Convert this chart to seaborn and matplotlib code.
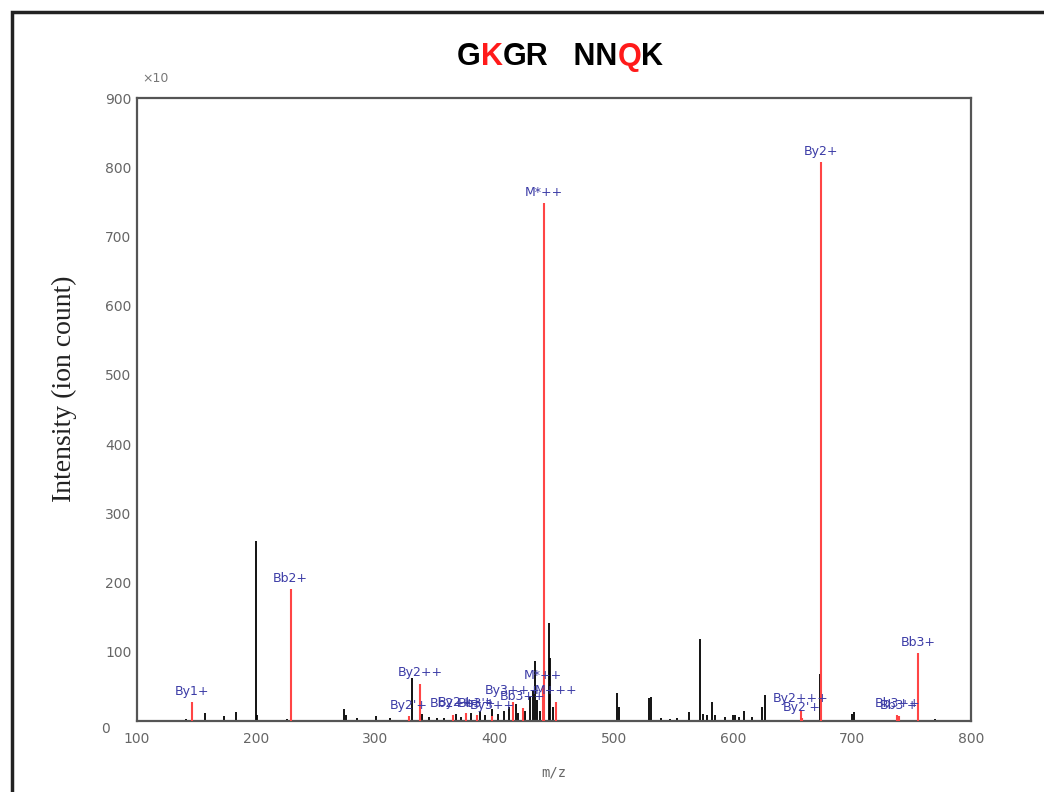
import numpy as np
import pandas as pd
import seaborn as sns
import matplotlib
matplotlib.use("Agg")
import matplotlib.pyplot as plt
from matplotlib.patches import Rectangle
from matplotlib.offsetbox import TextArea, HPacker, AnchoredOffsetbox

# ---------------- data ----------------
black_mz = [141, 156.8, 173.3, 183, 199.6, 201, 225.5, 274, 275.5, 285, 301, 312.3,
            330.5, 339, 345, 352, 358, 368, 372, 380, 388, 392, 398, 403, 408, 412,
            418, 420, 426, 429.8, 432, 434, 436, 438, 445.8, 447, 449, 502.6, 504.6,
            529.5, 531, 539.5, 547, 553, 563, 572.9, 575, 578, 582.6, 585, 593.4, 600,
            602, 605, 609.5, 616, 624.5, 627, 673.5, 700, 701.5, 755.5, 770]
black_int = [3, 12, 7, 13, 260, 8, 3, 17, 8, 4, 7, 5,
             62, 10, 6, 5, 4, 10, 6, 12, 15, 8, 18, 10, 14, 20,
             25, 12, 15, 35, 45, 86, 30, 15, 142, 91, 20, 40, 20,
             33, 35, 5, 3, 5, 13, 119, 10, 8, 28, 8, 6, 8,
             8, 6, 15, 6, 20, 38, 68, 10, 13, 26, 3]

red_mz = [146.4, 229, 328.3, 337.5, 365, 376, 385.6, 398, 415.6, 424,
          440.5, 441.6, 452, 657, 658, 674, 738, 739.5, 755.5]
red_int = [27, 190, 7, 54, 9, 11, 9, 7, 28, 19,
           50, 748, 28, 16, 4, 807, 9, 7, 98]
red_labels = ["By1+", "Bb2+", "By2'+", "By2++", "Bb2++", "By2+++", "Bb3'+", "By3++",
              "By3+++", "Bb3++", "M*++", "M*++", "M+++", "By2+++", "By2'+", "By2+",
              "Bb3++", "Bb3'+", "Bb3+"]

x_ticks = [100, 200, 300, 400, 500, 600, 700, 800]
y_ticks = [0, 100, 200, 300, 400, 500, 600, 700, 800, 900]

title_parts = [("G", "black"), ("K", "#ff1a1a"), ("GR", "black"), ("   NN", "black"),
               ("Q", "#ff1a1a"), ("K", "black")]

# ---------------- plot ----------------
sns.set_theme(style="white")
plt.rcParams["font.family"] = ["DejaVu Sans"]

fig = plt.figure(figsize=(10.44, 7.92), dpi=100)
ax = fig.add_axes([137 / 1044, 1 - 721 / 792, (971 - 137) / 1044, (721 - 98) / 792])

black_df = pd.DataFrame({"mz": black_mz, "intensity": black_int})
red_df = pd.DataFrame({"mz": red_mz, "intensity": red_int, "label": red_labels})

ax.vlines(black_df["mz"], 0, black_df["intensity"], color="black", linewidth=1.3, zorder=2)
ax.vlines(red_df["mz"], 0, red_df["intensity"], color="#ff4545", linewidth=1.5, zorder=3)

label_color = "#3b3ba6"
for _, r in red_df.iterrows():
    ax.annotate(r["label"], xy=(r["mz"], r["intensity"]), xytext=(0, 8),
                textcoords="offset points", ha="center", va="center",
                fontsize=9, color=label_color, zorder=4)

ax.set_xlim(100, 800)
ax.set_ylim(0, 900)
ax.set_xticks(x_ticks)
ax.set_yticks(y_ticks)
ax.set_xticklabels([str(t) for t in x_ticks])
ax.set_yticklabels([str(t) if t else "" for t in y_ticks])
ax.tick_params(axis="both", direction="in", length=4, width=1.2, colors="#555555",
               labelcolor="#666666", labelsize=10)
ax.tick_params(axis="x", pad=8)
ax.tick_params(axis="y", pad=4)
for s in ax.spines.values():
    s.set_color("#555555")
    s.set_linewidth(1.6)
    s.set_visible(True)

fig.text(106 / 1044, 1 - 729 / 792, "0", color="#666666", fontsize=10, ha="center", va="center")

ax.set_xlabel("m/z", color="#666666", fontsize=10, family="DejaVu Sans Mono", labelpad=14)
ax.set_ylabel("Intensity (ion count)", fontsize=20, family="Liberation Serif",
              color="#222222")
ax.yaxis.set_label_coords(-0.072, 0.533)
fig.text(155 / 1044, 1 - 78 / 792, "\u00d710", color="#777777", fontsize=9,
         ha="center", va="center")

# title with coloured letters
areas = [TextArea(t, textprops=dict(color=c, fontsize=22, fontweight="bold",
                                    family="Liberation Sans")) for t, c in title_parts]
box = HPacker(children=areas, align="baseline", pad=0, sep=0)
anch = AnchoredOffsetbox(loc="center", child=box, frameon=False,
                         bbox_to_anchor=(560 / 1044, 1 - 57 / 792),
                         bbox_transform=fig.transFigure, borderpad=0, pad=0)
fig.add_artist(anch)

# outer frame
fig.patches.append(Rectangle((12 / 1044, -0.05), 1.1, 1.05 - 12 / 792,
                             transform=fig.transFigure, fill=False,
                             edgecolor="#222222", linewidth=2.5, zorder=0))

fig.savefig("out.png", dpi=100)
